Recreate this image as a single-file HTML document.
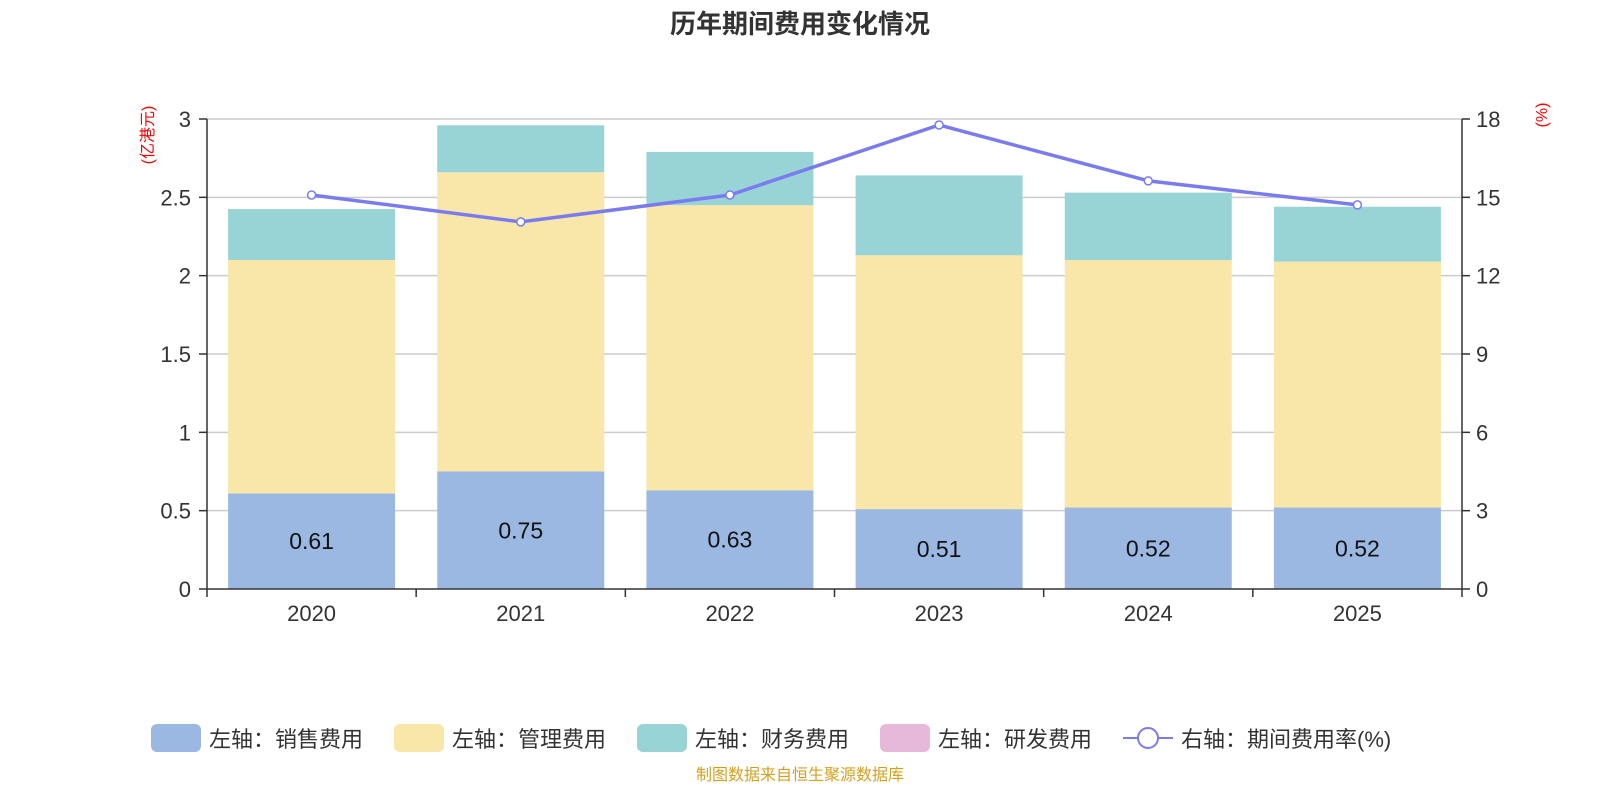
<!DOCTYPE html>
<html><head><meta charset="utf-8"><style>
body{margin:0;background:#fff;}
svg{display:block;font-family:"Liberation Sans","Noto Sans CJK SC",sans-serif;}
</style></head><body>
<svg id="c" width="1600" height="800" viewBox="0 0 1600 800">
<text x="800" y="33" text-anchor="middle" font-size="26" font-weight="bold" fill="#333">历年期间费用变化情况</text>
<text transform="translate(153,135) rotate(-90)" text-anchor="middle" font-size="16" fill="#f00">(亿港元)</text>
<text transform="translate(1547,115) rotate(-90)" text-anchor="middle" font-size="16" fill="#f00">(%)</text>
<g id="grid"></g><g id="bars"></g><g id="axes"></g><g id="line"></g>
<g font-size="22" fill="#333">
<g><rect x="151" y="724" width="50" height="28" rx="6" fill="#9bb8e2"/><text x="209" y="747">左轴：销售费用</text></g>
<g><rect x="394" y="724" width="50" height="28" rx="6" fill="#f8e7a8"/><text x="452" y="747">左轴：管理费用</text></g>
<g><rect x="637" y="724" width="50" height="28" rx="6" fill="#98d4d6"/><text x="695" y="747">左轴：财务费用</text></g>
<g><rect x="880" y="724" width="50" height="28" rx="6" fill="#e6b8d9"/><text x="938" y="747">左轴：研发费用</text></g>
<g><line x1="1123" y1="738" x2="1173" y2="738" stroke="#7b7bf0" stroke-width="2"/><circle cx="1148" cy="738" r="10" fill="#fff" stroke="#7b7bf0" stroke-width="2"/><text x="1181" y="747">右轴：期间费用率(%)</text></g>
</g>
<text x="800" y="780" text-anchor="middle" font-size="16" fill="#d4a020">制图数据来自恒生聚源数据库</text>
</svg>
<script>
const categories=["2020","2021","2022","2023","2024","2025"];
const sales=[0.61,0.75,0.63,0.51,0.52,0.52];
const admin=[1.49,1.91,1.82,1.62,1.58,1.57];
const finance=[0.325,0.30,0.34,0.51,0.43,0.35];
const rate=[15.09,14.06,15.09,17.77,15.63,14.71];
const leftTicks=["0","0.5","1","1.5","2","2.5","3"];
const rightTicks=["0","3","6","9","12","15","18"];
const NS="http://www.w3.org/2000/svg";
const X0=207,X1=1462,Y0=589,Y1=119;
const band=(X1-X0)/categories.length;
const yL=v=>Y0-(v/3)*(Y0-Y1);
const yR=v=>Y0-(v/18)*(Y0-Y1);
const xC=i=>X0+band*(i+0.5);
function mk(t,a,p){const e=document.createElementNS(NS,t);for(const k in a)e.setAttribute(k,a[k]);document.getElementById(p).appendChild(e);return e;}
leftTicks.forEach((t,i)=>{const y=yL(i*0.5);
 if(i>0){const g=mk('line',{x1:X0,x2:X1,y1:y,y2:y,stroke:'#ccc','stroke-width':1.5},'grid');}
 mk('line',{x1:X0-8,x2:X0,y1:y,y2:y,stroke:'#333','stroke-width':1.5},'axes');
 const l=mk('text',{x:X0-16,y:y+8,'text-anchor':'end','font-size':22,fill:'#333'},'axes');l.textContent=t;
 });
rightTicks.forEach((t,i)=>{const y=yR(i*3);
 mk('line',{x1:X1,x2:X1+8,y1:y,y2:y,stroke:'#333','stroke-width':1.5},'axes');
 const l=mk('text',{x:X1+14,y:y+8,'font-size':22,fill:'#333'},'axes');l.textContent=t;
 });
mk('line',{x1:X0,x2:X0,y1:Y1,y2:Y0,stroke:'#333','stroke-width':1.5},'axes');
mk('line',{x1:X1,x2:X1,y1:Y1,y2:Y0,stroke:'#333','stroke-width':1.5},'axes');
mk('line',{x1:X0,x2:X1,y1:Y0,y2:Y0,stroke:'#333','stroke-width':1.5},'axes');
for(let i=0;i<=categories.length;i++){const x=X0+band*i;mk('line',{x1:x,x2:x,y1:Y0,y2:Y0+8,stroke:'#333','stroke-width':1.5},'axes');}
const bw=167;
categories.forEach((c,i)=>{const x=xC(i)-bw/2;let base=0;
 [[sales,'#9bb8e2','bar-sales'],[admin,'#f8e7a8','bar-admin'],[finance,'#98d4d6','bar-finance']].forEach(([arr,col,n])=>{
  const r=mk('rect',{x:x,width:bw,y:yL(base+arr[i]),height:yL(base)-yL(base+arr[i]),fill:col},'bars');
  base+=arr[i];});
 const v=mk('text',{x:xC(i),y:(yL(0)+yL(sales[i]))/2+8,'text-anchor':'middle','font-size':23,fill:'#111'},'bars');v.textContent=sales[i].toFixed(2);
 
 const l=mk('text',{x:xC(i),y:621,'text-anchor':'middle','font-size':22,fill:'#333'},'axes');l.textContent=c;
 });
const pl=mk('polyline',{points:rate.map((v,i)=>xC(i)+','+yR(v)).join(' '),fill:'none',stroke:'#7b7bf0','stroke-width':3.5},'line');

rate.forEach((v,i)=>{const p=mk('circle',{cx:xC(i),cy:yR(v),r:4,fill:'#fff',stroke:'#7b7bf0','stroke-width':1.5},'line');
 });
</script>
</body></html>
